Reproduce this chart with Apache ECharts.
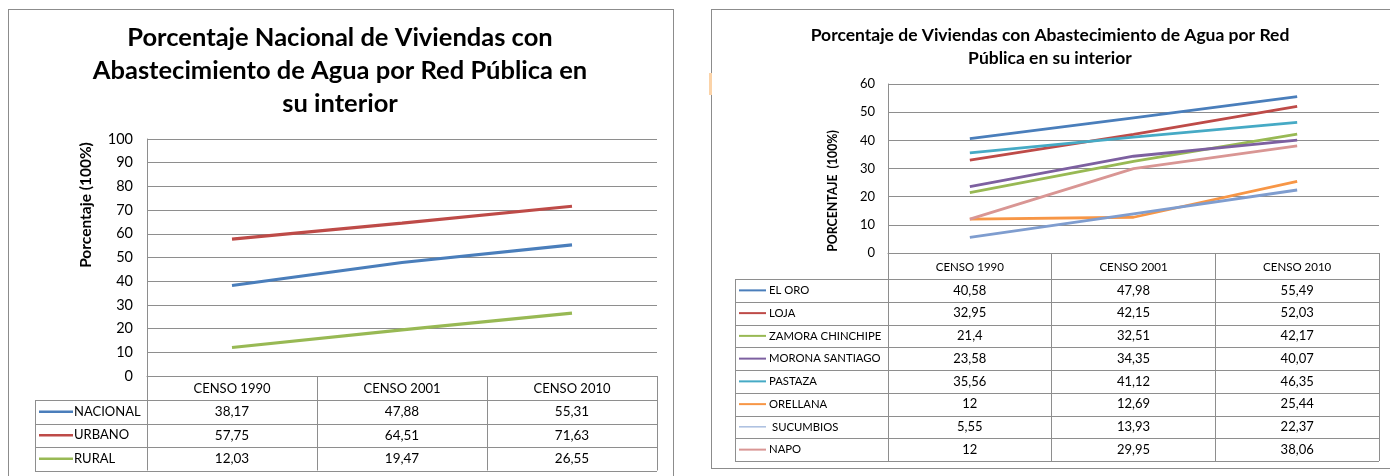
<!DOCTYPE html>
<html>
<head>
<meta charset="utf-8">
<script src="https://cdn.jsdelivr.net/npm/echarts@6/dist/echarts.min.js"></script>
<style>
  html, body { margin: 0; padding: 0; background: #fff; }
  #wrap { position: relative; width: 1390px; height: 476px; overflow: hidden; }
  .frame { position: absolute; background: #fff; border: 1.5px solid #8c8c8c; box-sizing: border-box; }
  .mark { position: absolute; background: #fbd3a8; }
  #chart { position: absolute; left: 0; top: 0; width: 1390px; height: 476px; }
</style>
</head>
<body>
<div id="wrap">
  <div class="frame" style="left:8px; top:9px; width:666px; height:480px;"></div>
  <div class="frame" style="left:711px; top:9px; width:700px; height:460px;"></div>
  <div class="mark" style="left:709px; top:73px; width:3px; height:22px;"></div>
  <div id="chart"></div>
</div>
<script>
// categories (table header)
const censos = ['CENSO 1990', 'CENSO 2001', 'CENSO 2010'];

// national chart
const nacionalNames = ['NACIONAL', 'URBANO', 'RURAL'];
const nacional = [38.17, 47.88, 55.31];
const urbano = [57.75, 64.51, 71.63];
const rural = [12.03, 19.47, 26.55];

// provinces chart
const provNames = ['EL ORO', 'LOJA', 'ZAMORA CHINCHIPE', 'MORONA SANTIAGO', 'PASTAZA', 'ORELLANA', 'SUCUMBIOS', 'NAPO'];
const elOro = [40.58, 47.98, 55.49];
const loja = [32.95, 42.15, 52.03];
const zamora = [21.4, 32.51, 42.17];
const morona = [23.58, 34.35, 40.07];
const pastaza = [35.56, 41.12, 46.35];
const orellana = [12, 12.69, 25.44];
const sucumbios = [5.55, 13.93, 22.37];
const napo = [12, 29.95, 38.06];

// y axis ticks
const yMax1 = 100, yStep1 = 10;
const yMax2 = 60, yStep2 = 10;

const FONT = 'Lato, "Open Sans", sans-serif';
const GRID_C = '#8e8e8e';
const BORDER = '#8e8e8e';

const nacColors = ['#4a7ebb', '#be4b48', '#98b954'];
const provColors = ['#4a7ebb', '#be4b48', '#98b954', '#7d60a0', '#46aac5', '#f79646', '#7f9dcf', '#d99694'];

const nacRows = [nacional, urbano, rural];
const provRows = [elOro, loja, zamora, morona, pastaza, orellana, sucumbios, napo];

// layout of the two plots and their data tables
const L = {left: 147, top: 139, width: 510, height: 237, rowTop: 400, rowH: 23.5,
  tableLeft: 35, keyX: 39, keyW: 34, keyGap: 1, keyLine: 2.5, font: 13.5, nameFont: 13};
const R = {left: 888, top: 84, width: 491, height: 169, rowTop: 279, rowH: 22.75,
  tableLeft: 735, keyX: 739, keyW: 27, keyGap: 3, keyLine: 2, font: 13, nameFont: 11.3};

const fmt = v => String(v).replace('.', ',');

const chart = echarts.init(document.getElementById('chart'));

function xAxisFor(idx, cfg, names) {
  return {
    gridIndex: idx,
    type: 'category',
    data: censos,
    boundaryGap: true,
    axisLine: {lineStyle: {color: GRID_C, width: 1}},
    axisTick: {show: true, interval: 0, length: cfg.rowTop + names.length * cfg.rowH - (cfg.top + cfg.height),
      lineStyle: {color: BORDER}},
    axisLabel: {interval: 0, margin: idx === 0 ? 6 : 8, fontSize: idx === 0 ? 13 : 11.5, color: '#000', fontFamily: FONT},
    splitLine: {show: false}
  };
}

function yAxisFor(idx, max, step, size, margin) {
  return {
    gridIndex: idx,
    type: 'value',
    min: 0,
    max: max,
    interval: step,
    axisLine: {show: true, lineStyle: {color: GRID_C}},
    axisTick: {show: false},
    axisLabel: {fontSize: size, color: '#000', margin: margin, fontFamily: FONT},
    splitLine: {lineStyle: {color: GRID_C, width: 1}}
  };
}

const series = [];
nacionalNames.forEach((name, i) => {
  series.push({name: name, type: 'line', xAxisIndex: 0, yAxisIndex: 0, data: nacRows[i],
    symbol: 'none', lineStyle: {width: 3.2, color: nacColors[i]}, itemStyle: {color: nacColors[i]}});
});
provNames.forEach((name, i) => {
  series.push({name: name, type: 'line', xAxisIndex: 1, yAxisIndex: 1, data: provRows[i],
    symbol: 'none', lineStyle: {width: 2.8, color: provColors[i]}, itemStyle: {color: provColors[i]}});
});

chart.setOption({
  animation: false,
  textStyle: {fontFamily: FONT},
  title: [
    {
      text: 'Porcentaje Nacional de Viviendas con\nAbastecimiento de Agua por Red Pública en\nsu interior',
      left: 340, top: 21, textAlign: 'center', padding: 0,
      textStyle: {fontSize: 25.5, fontWeight: 'bold', lineHeight: 33, color: '#000', fontFamily: FONT}
    },
    {
      text: 'Porcentaje de Viviendas con Abastecimiento de Agua por Red\nPública en su interior',
      left: 1050, top: 24, textAlign: 'center', padding: 0,
      textStyle: {fontSize: 17.5, fontWeight: 'bold', lineHeight: 23, color: '#000', fontFamily: FONT}
    }
  ],
  grid: [
    {left: L.left, top: L.top, width: L.width, height: L.height, outerBoundsMode: 'none'},
    {left: R.left, top: R.top, width: R.width, height: R.height, outerBoundsMode: 'none'}
  ],
  xAxis: [xAxisFor(0, L, nacionalNames), xAxisFor(1, R, provNames)],
  yAxis: [yAxisFor(0, yMax1, yStep1, 14.5, 14), yAxisFor(1, yMax2, yStep2, 13, 13)],
  series: series
});

// data tables under each plot, columns taken from the category axis
function tableGraphics(axisIdx, cfg, names, rows, colors) {
  const els = [];
  const right = cfg.left + cfg.width;
  const crisp = y => Math.round(y) + 0.5;
  const bottom = cfg.rowTop + names.length * cfg.rowH;
  for (let i = 0; i <= names.length; i++) {
    const y = crisp(cfg.rowTop + i * cfg.rowH);
    els.push({type: 'line', shape: {x1: cfg.tableLeft, y1: y, x2: right, y2: y},
      style: {stroke: BORDER, lineWidth: 1}});
  }
  els.push({type: 'line', shape: {x1: cfg.tableLeft + 0.5, y1: crisp(cfg.rowTop), x2: cfg.tableLeft + 0.5, y2: crisp(bottom)},
    style: {stroke: BORDER, lineWidth: 1}});
  names.forEach((name, i) => {
    const cy = cfg.rowTop + (i + 0.5) * cfg.rowH;
    const lw = name === 'SUCUMBIOS' ? 1 : cfg.keyLine;
    els.push({type: 'line', shape: {x1: cfg.keyX, y1: cy, x2: cfg.keyX + cfg.keyW, y2: cy},
      style: {stroke: colors[i], lineWidth: lw}});
    els.push({type: 'text', x: cfg.keyX + cfg.keyW + cfg.keyGap + (name === 'SUCUMBIOS' ? 3 : 0), y: cy,
      style: {text: name, fill: '#000', fontSize: cfg.nameFont, fontFamily: FONT, verticalAlign: 'middle', align: 'left'}});
    rows[i].forEach((v, j) => {
      const cx = chart.convertToPixel({xAxisIndex: axisIdx}, censos[j]);
      els.push({type: 'text', x: cx, y: cy,
        style: {text: fmt(v), fill: '#000', fontSize: cfg.font, fontFamily: FONT, align: 'center', verticalAlign: 'middle'}});
    });
  });
  return els;
}

const graphics = []
  .concat(tableGraphics(0, L, nacionalNames, nacRows, nacColors))
  .concat(tableGraphics(1, R, provNames, provRows, provColors));

graphics.push({type: 'text', x: 86, y: 205, rotation: Math.PI / 2,
  style: {text: 'Porcentaje (100%)', fill: '#000', fontSize: 15.5, fontWeight: 'bold', fontFamily: FONT,
    align: 'center', verticalAlign: 'middle'}});
graphics.push({type: 'text', x: 833, y: 191, rotation: Math.PI / 2,
  style: {text: 'PORCENTAJE  (100%)', fill: '#000', fontSize: 12.3, fontWeight: 'bold', fontFamily: FONT,
    align: 'center', verticalAlign: 'middle'}});

chart.setOption({graphic: graphics});
</script>
</body>
</html>
